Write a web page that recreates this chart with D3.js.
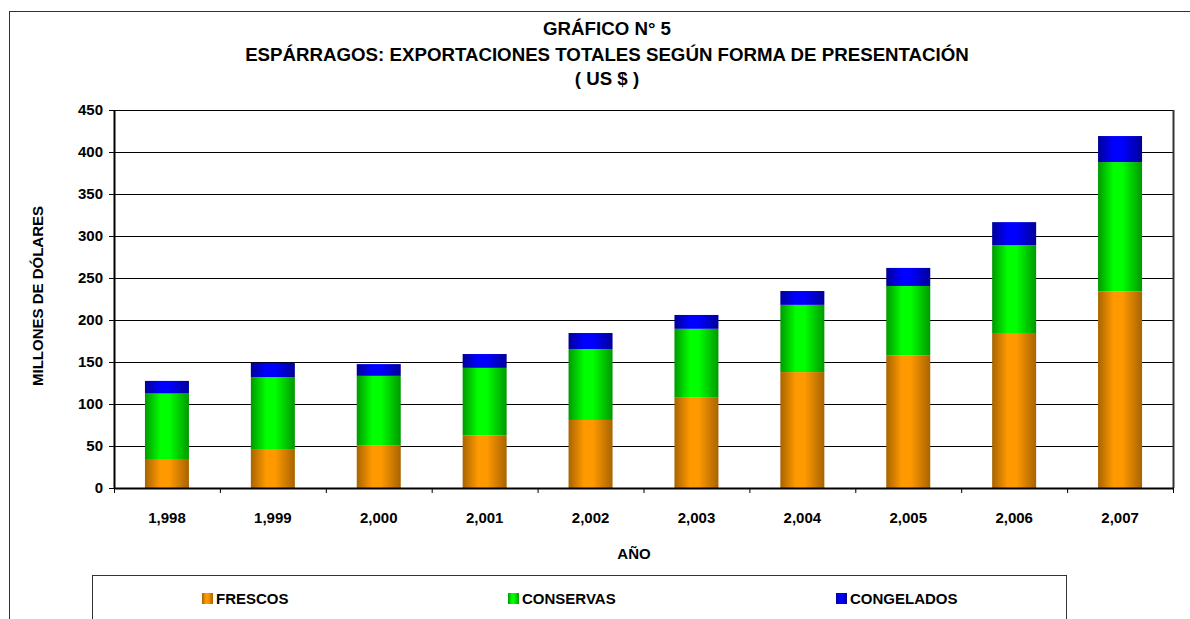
<!DOCTYPE html>
<html>
<head>
<meta charset="utf-8">
<script src="https://cdn.jsdelivr.net/npm/d3@7"></script>
<style>
  body { margin: 0; background: #fff; }
  svg { display: block; font-family: "Liberation Sans", Arial, sans-serif; font-weight: bold; }
</style>
</head>
<body>
<svg width="1190" height="619"></svg>
<script>
const years = ["1,998", "1,999", "2,000", "2,001", "2,002", "2,003", "2,004", "2,005", "2,006", "2,007"];
const frescos = [34.5, 45.5, 51, 62.5, 81, 107.5, 138, 158, 184.5, 234];
const conservas = [78, 86.5, 82.5, 80.5, 84.5, 82, 80, 82.5, 104.5, 154];
const congelados = [15, 17, 14, 16.5, 19, 16.5, 16.5, 21.5, 27.5, 31];
const seriesNames = ["FRESCOS", "CONSERVAS", "CONGELADOS"];
const yTicks = [0, 50, 100, 150, 200, 250, 300, 350, 400, 450];

const plot = { left: 114, top: 110, right: 1173, bottom: 488 };
const fontSize = "15px";

const svg = d3.select("svg");

// gradients, dark at the edges like the original cylinder-ish fill
const gradColors = [
    ["#a86400", "#ff9900"],
    ["#009900", "#00ff00"],
    ["#000099", "#0000ff"],
];
const defs = svg.append("defs");
gradColors.forEach((c, i) => {
    const g = defs.append("linearGradient").attr("id", "grad" + i)
        .attr("x1", "0%").attr("x2", "100%").attr("y1", "0%").attr("y2", "0%");
    g.append("stop").attr("offset", "0%").attr("stop-color", c[0]);
    g.append("stop").attr("offset", "35%").attr("stop-color", c[1]);
    g.append("stop").attr("offset", "55%").attr("stop-color", c[1]);
    g.append("stop").attr("offset", "100%").attr("stop-color", c[0]);
});

// outer chart border
svg.append("rect")
    .attr("x", 9.5).attr("y", 11.5)
    .attr("width", 1200).attr("height", 700)
    .attr("fill", "none").attr("stroke", "#333").attr("stroke-width", 1);

// title
const titleLines = ["GRÁFICO N° 5", "ESPÁRRAGOS: EXPORTACIONES TOTALES SEGÚN FORMA DE PRESENTACIÓN", "( US $ )"];
svg.append("g").selectAll("text")
    .data(titleLines)
    .enter().append("text")
    .attr("x", 607)
    .attr("y", (d, i) => [35, 61, 85][i])
    .attr("text-anchor", "middle")
    .style("font-size", "18.7px")
    .text(d => d);

const x = d3.scaleBand().domain(years).range([plot.left, plot.right]).paddingInner(0).paddingOuter(0);
const y = d3.scaleLinear().domain([0, 450]).range([plot.bottom, plot.top]);
const barWidth = 44;

// gridlines
svg.append("g").selectAll("line")
    .data(yTicks.filter(d => d > 0))
    .enter().append("line")
    .attr("x1", plot.left).attr("x2", plot.right)
    .attr("y1", d => y(d) + 0.5).attr("y2", d => y(d) + 0.5)
    .attr("stroke", "#000").attr("stroke-width", 1);

// plot right border
svg.append("line")
    .attr("x1", plot.right + 0.5).attr("x2", plot.right + 0.5)
    .attr("y1", plot.top).attr("y2", plot.bottom)
    .attr("stroke", "#333").attr("stroke-width", 2);

// stacked bars
const table = years.map((yr, i) => ({ year: yr, FRESCOS: frescos[i], CONSERVAS: conservas[i], CONGELADOS: congelados[i] }));
const stacked = d3.stack().keys(seriesNames)(table);

svg.append("g").selectAll("g")
    .data(stacked)
    .enter().append("g")
    .attr("fill", (d, i) => `url(#grad${i})`)
    .selectAll("rect")
    .data(d => d)
    .enter().append("rect")
    .attr("x", d => x(d.data.year) + (x.bandwidth() - barWidth) / 2)
    .attr("width", barWidth)
    .attr("y", d => y(d[1]))
    .attr("height", d => y(d[0]) - y(d[1]));

// y axis
const yAxis = svg.append("g")
    .attr("transform", `translate(${plot.left},0)`)
    .call(d3.axisLeft(y).tickValues(yTicks).tickSize(5).tickSizeOuter(0));
yAxis.select(".domain").attr("stroke", "#000").attr("stroke-width", 2);
yAxis.selectAll(".tick line").attr("stroke", "#000");
yAxis.selectAll("text")
    .attr("x", -11)
    .style("font-family", "Liberation Sans, Arial, sans-serif")
    .style("font-weight", "bold")
    .style("font-size", fontSize)
    .attr("fill", "#000");

// x axis
const xAxis = svg.append("g")
    .attr("transform", `translate(0,${plot.bottom})`)
    .call(d3.axisBottom(x).tickSize(0).tickSizeOuter(0));
xAxis.select(".domain").attr("stroke", "#000").attr("stroke-width", 2);
xAxis.selectAll("text")
    .attr("y", 24)
    .style("font-family", "Liberation Sans, Arial, sans-serif")
    .style("font-weight", "bold")
    .style("font-size", fontSize)
    .attr("fill", "#000");

// boundary tick marks
svg.append("g").selectAll("line")
    .data(years.concat(["end"]))
    .enter().append("line")
    .attr("x1", (d, i) => plot.left + i * x.bandwidth() + 0.5)
    .attr("x2", (d, i) => plot.left + i * x.bandwidth() + 0.5)
    .attr("y1", plot.bottom)
    .attr("y2", plot.bottom + 5)
    .attr("stroke", "#000");

// axis titles
svg.append("text")
    .attr("transform", `translate(42.5,296) rotate(-90)`)
    .attr("text-anchor", "middle")
    .style("font-size", fontSize)
    .text("MILLONES DE DÓLARES");

svg.append("text")
    .attr("x", 634).attr("y", 558.5)
    .attr("text-anchor", "middle")
    .style("font-size", fontSize)
    .text("AÑO");

// legend
const legend = svg.append("g");
legend.append("rect")
    .attr("x", 92.5).attr("y", 575.5)
    .attr("width", 974).attr("height", 80)
    .attr("fill", "#fff").attr("stroke", "#333");

const legendX = [202, 508, 836];
const items = legend.selectAll("g.item")
    .data(seriesNames)
    .enter().append("g")
    .attr("transform", (d, i) => `translate(${legendX[i]},593)`);

items.append("rect")
    .attr("width", 11).attr("height", 11)
    .attr("fill", (d, i) => `url(#grad${i})`);

items.append("text")
    .attr("x", 14).attr("y", 11)
    .style("font-size", fontSize)
    .text(d => d);
</script>
</body>
</html>
